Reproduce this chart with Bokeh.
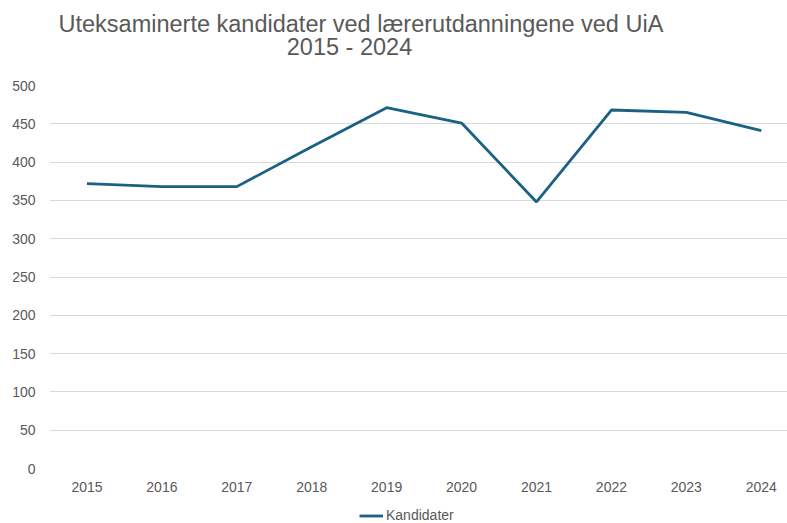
from bokeh.plotting import figure
from bokeh.layouts import column
from bokeh.models import Range1d, FixedTicker, Label, Legend, LegendItem, ColumnDataSource
from bokeh.embed import file_html
from bokeh.resources import INLINE

years = [2015, 2016, 2017, 2018, 2019, 2020, 2021, 2022, 2023, 2024]
kandidater = [372, 368, 368, 420, 471, 451, 348, 468, 465, 441]
year_labels = [str(y) for y in years]
y_ticks = [0, 50, 100, 150, 200, 250, 300, 350, 400, 450, 500]

title_line1 = "Uteksaminerte kandidater ved lærerutdanningene ved UiA"
title_line2 = "2015 - 2024"
series_name = "Kandidater"

FONT = "Liberation Sans"
GREY = "#595959"
LINE = "#1B6184"
W = 787
LEFT = 49


def bare(height, xr, yr):
    fig = figure(width=W, height=height, output_backend="svg", toolbar_location=None,
                 x_range=xr, y_range=yr, x_axis_location=None, y_axis_location=None,
                 min_border_left=0, min_border_right=0, min_border_top=0, min_border_bottom=0)
    fig.grid.visible = False
    fig.outline_line_color = None
    fig.background_fill_color = "white"
    fig.border_fill_color = "white"
    return fig


# header with the two title lines (frames in the column are aligned to the chart's frame)
header = bare(75, Range1d(LEFT, W), Range1d(0, 75))
header.add_layout(Label(x=58, y=52, text=title_line1, text_font=FONT, text_font_size="23.5px",
                        text_color=GREY, text_align="left", text_baseline="alphabetic"))
header.add_layout(Label(x=349, y=29, text=title_line2, text_font=FONT, text_font_size="23.5px",
                        text_color=GREY, text_align="center", text_baseline="alphabetic"))

# main chart
p = figure(width=W, height=433, output_backend="svg", toolbar_location=None,
           x_range=Range1d(2014.5, 2024.35), y_range=Range1d(0, 500),
           min_border_left=LEFT, min_border_right=0, min_border_bottom=40, min_border_top=10)
p.outline_line_color = None
p.background_fill_color = "white"
p.border_fill_color = "white"

src = ColumnDataSource(dict(x=years, y=kandidater))
p.line("x", "y", source=src, line_color=LINE, line_width=2.8)

p.xaxis.ticker = FixedTicker(ticks=years)
p.xaxis.major_label_overrides = {y: l for y, l in zip(years, year_labels)}
p.yaxis.ticker = FixedTicker(ticks=y_ticks)
for ax in (p.xaxis, p.yaxis):
    ax.axis_line_color = None
    ax.major_tick_line_color = None
    ax.minor_tick_line_color = None
    ax.major_tick_out = 0
    ax.major_tick_in = 0
    ax.major_label_text_font = FONT
    ax.major_label_text_font_size = "14px"
    ax.major_label_text_color = GREY
p.yaxis.major_label_standoff = 14
p.xaxis.major_label_standoff = 13

p.xgrid.grid_line_color = None
p.ygrid.ticker = FixedTicker(ticks=y_ticks)
p.ygrid.grid_line_color = "#D9D9D9"
p.ygrid.grid_line_width = 1

# legend strip
lg = bare(15, Range1d(0, 1), Range1d(0, 1))
r = lg.line(years, kandidater, line_color=LINE, line_width=2.8)
legend = Legend(items=[LegendItem(label=series_name, renderers=[r])], orientation="horizontal",
                location=(359 - LEFT, 0), label_text_font=FONT, label_text_font_size="14px",
                label_text_color=GREY, glyph_width=24, glyph_height=15, label_height=15,
                label_standoff=3, padding=0, margin=0, spacing=0,
                border_line_color=None, background_fill_color=None, background_fill_alpha=0)
lg.add_layout(legend, "center")

layout = column(header, p, lg, spacing=0)
open("out.html", "w").write(file_html(layout, INLINE))
